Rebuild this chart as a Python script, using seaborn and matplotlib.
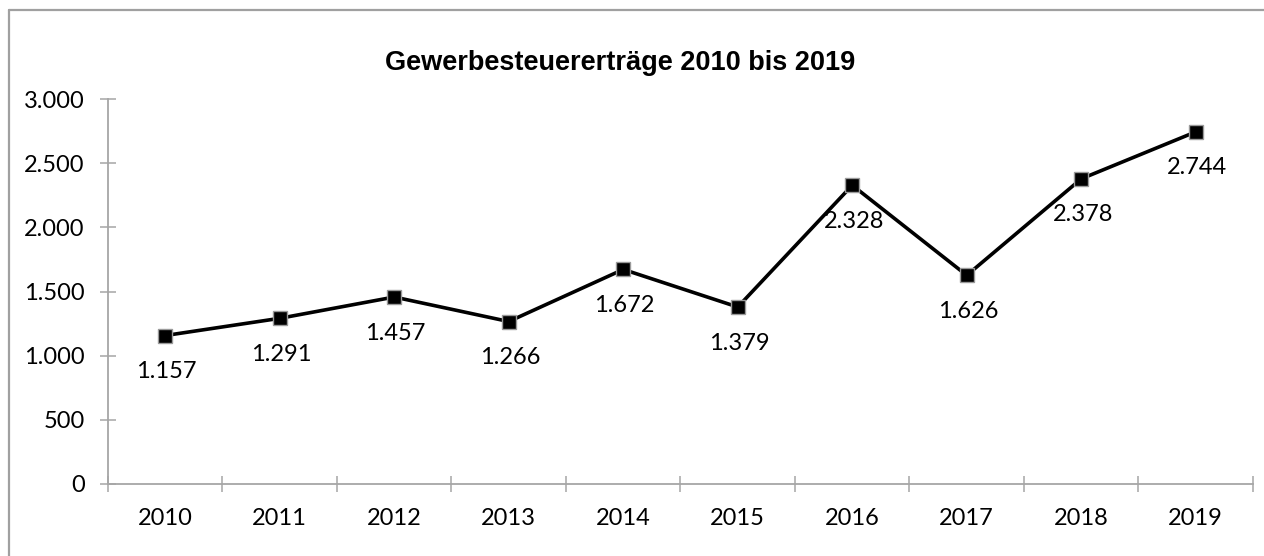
import matplotlib

matplotlib.use("Agg")
import matplotlib.pyplot as plt
import pandas as pd
import seaborn as sns
from matplotlib.lines import Line2D
from matplotlib.ticker import FixedLocator, FuncFormatter

YEARS = [2010, 2011, 2012, 2013, 2014, 2015, 2016, 2017, 2018, 2019]
ERTRAEGE = [1157, 1291, 1457, 1266, 1672, 1379, 2328, 1626, 2378, 2744]
Y_TICKS = [0, 500, 1000, 1500, 2000, 2500, 3000]
TITLE = "Gewerbesteuererträge 2010 bis 2019"

AXIS_GREY = "#A6A6A6"
LABEL_FONT = ["Lato", "DejaVu Sans"]
LABEL_SIZE = 17


def german(v, _pos=None):
    return f"{v:,.0f}".replace(",", ".")


def main():
    sns.set_theme(style="white")
    plt.rcParams["font.family"] = LABEL_FONT

    df = pd.DataFrame({"jahr": YEARS, "ertrag": ERTRAEGE})

    fig = plt.figure(figsize=(12.64, 5.56), dpi=100)
    ax = fig.add_axes([108 / 1264, 1 - 484 / 556, (1253 - 108) / 1264, (484 - 99) / 556])

    sns.lineplot(
        data=df,
        x="jahr",
        y="ertrag",
        color="black",
        linewidth=2.6,
        marker="s",
        markersize=9.5,
        markerfacecolor="black",
        markeredgecolor="#9A9A9A",
        markeredgewidth=1.0,
        ax=ax,
    )

    for jahr, wert in zip(YEARS, ERTRAEGE):
        ax.annotate(
            german(wert),
            xy=(jahr, wert),
            xytext=(1, -26),
            textcoords="offset points",
            ha="center",
            va="center",
            fontsize=LABEL_SIZE,
            color="black",
        )

    ax.set_xlim(YEARS[0] - 0.5, YEARS[-1] + 0.5)
    ax.set_ylim(Y_TICKS[0], Y_TICKS[-1])

    # category boundaries carry the tick marks, labels sit in between
    ax.xaxis.set_major_locator(FixedLocator([y - 0.5 for y in YEARS] + [YEARS[-1] + 0.5]))
    ax.xaxis.set_major_formatter(FuncFormatter(lambda v, p: ""))
    ax.xaxis.set_minor_locator(FixedLocator(YEARS))
    ax.xaxis.set_minor_formatter(FuncFormatter(lambda v, p: f"{int(round(v))}"))
    ax.tick_params(axis="x", which="major", direction="inout", length=12, width=1.1,
                   color=AXIS_GREY, bottom=True)
    ax.tick_params(axis="x", which="minor", length=0, pad=17, labelsize=LABEL_SIZE,
                   labelcolor="black", bottom=True)

    ax.set_yticks(Y_TICKS)
    ax.yaxis.set_major_formatter(FuncFormatter(german))
    ax.tick_params(axis="y", direction="inout", length=11.5, width=1.1, color=AXIS_GREY,
                   pad=11, labelsize=LABEL_SIZE, labelcolor="black", left=True)

    ax.set_xlabel("")
    ax.set_ylabel("")
    for side in ("top", "right"):
        ax.spines[side].set_visible(False)
    for side in ("left", "bottom"):
        ax.spines[side].set_color(AXIS_GREY)
        ax.spines[side].set_linewidth(1.3)

    fig.text(620 / 1264, 1 - 63 / 556, TITLE, ha="center", va="center", fontsize=19.5,
             fontweight="bold", color="black", family=["Liberation Sans", "DejaVu Sans"])

    # chart area frame (only top and left edges visible in the crop)
    fig.add_artist(Line2D([9 / 1264, 1], [1 - 10 / 556, 1 - 10 / 556], color="#A0A0A0",
                          linewidth=1.6, transform=fig.transFigure))
    fig.add_artist(Line2D([9 / 1264, 9 / 1264], [0, 1 - 10 / 556], color="#A0A0A0",
                          linewidth=1.6, transform=fig.transFigure))

    fig.savefig("out.png", dpi=100)
    plt.close(fig)


if __name__ == "__main__":
    main()
